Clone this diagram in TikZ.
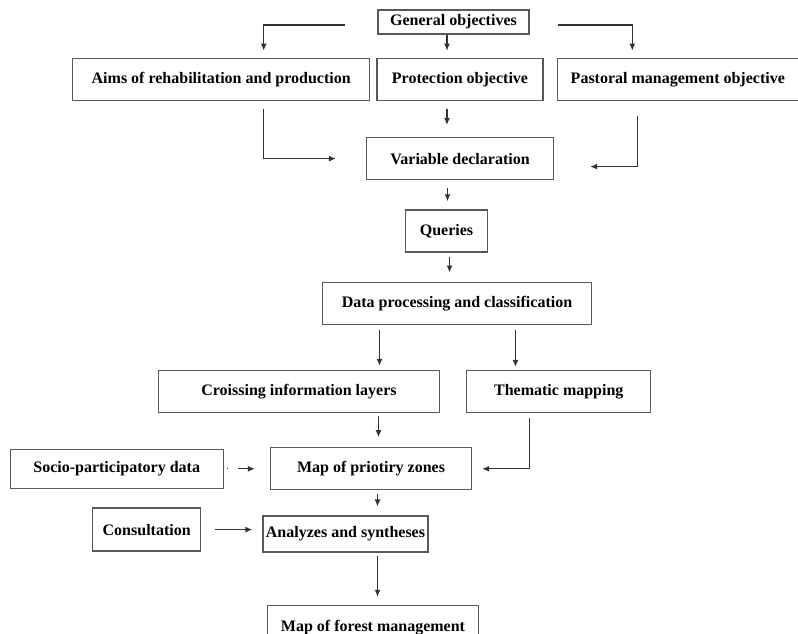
\documentclass[tikz,border=0pt]{standalone}
\usepackage{fontspec}
\setmainfont{Liberation Serif}
\usetikzlibrary{arrows.meta,positioning,calc}
\tikzset{
    stage/.style={draw=black!65, line width=1.3pt, minimum height=42pt, inner sep=1pt, font=\fontsize{16}{18}\selectfont\bfseries},
    flow/.style={-{Latex[length=7pt, width=6pt]}, line width=1.2pt, black!80},
    faint/.style={flow, dash pattern=on 1.5pt off 10pt on 20pt}
}

\begin{document}
\begin{tikzpicture}
    \useasboundingbox (0,0) rectangle (798pt,-634pt);
    \clip (0,0) rectangle (798pt,-634pt);

    \node[stage, minimum width=151pt, minimum height=24pt] (general) at (453.5pt,-22pt) {General objectives};
    \node[stage, minimum width=166pt, below=23pt of general, xshift=6.5pt] (protect) {Protection objective};
    \node[stage, minimum width=297pt, left=6pt of protect] (aims) {Aims of rehabilitation and production};
    \node[stage, minimum width=241pt, right=13pt of protect] (pastoral) {Pastoral management objective};
    \node[stage, minimum width=187pt, below=36pt of protect] (variable) {Variable declaration};
    \node[stage, minimum width=82pt, below=29pt of variable, xshift=-13.5pt] (queries) {Queries};
    \node[stage, minimum width=269pt, below=29pt of queries, xshift=10.5pt] (processing) {Data processing and classification};
    \node[stage, minimum width=281pt, below=45pt of processing, xshift=-158pt] (crossing) {Croissing information layers};
    \node[stage, minimum width=184pt, right=26pt of crossing] (thematic) {Thematic mapping};
    \node[stage, minimum width=201pt, below=34pt of crossing, xshift=72pt] (priority) {Map of priotiry zones};
    \node[stage, minimum width=213pt, minimum height=39pt, left=46pt of priority] (socio) {Socio-participatory data};
    \node[stage, minimum width=165pt, minimum height=36pt, below=25pt of priority, xshift=-25.5pt] (analyzes) {Analyzes and syntheses};
    \node[stage, minimum width=108pt, minimum height=43pt, left=61pt of analyzes, yshift=4.5pt] (consult) {Consultation};
    \node[stage, minimum width=211pt, minimum height=44pt, below=52pt of analyzes, xshift=27.5pt] (forest) {Map of forest management};

    % objectives
    \draw[flow, shorten >=7pt] ([shift={(-32pt,-3pt)}]general.west) -| ([xshift=42.5pt]aims.north);
    \draw[flow, shorten >=7pt] ([xshift=-6.5pt]general.south) -- ([xshift=-6.5pt]general.south |- protect.north);
    \draw[flow, shorten >=7pt] ([shift={(28pt,-3pt)}]general.east) -| ([xshift=-45.5pt]pastoral.north);
    \draw[flow, shorten >=30pt] ([shift={(42.5pt,-8pt)}]aims.south) |- (variable.west);
    \draw[flow, shorten <=8pt, shorten >=12pt] ([xshift=-13pt]protect.south) -- ([xshift=-13pt]protect.south |- variable.north);
    \draw[flow, shorten >=36pt] ([shift={(-40pt,-15pt)}]pastoral.south) |- ([yshift=-8pt]variable.east);

    % processing chain
    \draw[flow, shorten <=8pt, shorten >=8pt] ([xshift=-12.5pt]variable.south) -- ([xshift=-12.5pt]variable.south |- queries.north);
    \draw[flow, shorten <=4pt, shorten >=9pt] ([xshift=3pt]queries.south) -- ([xshift=3pt]queries.south |- processing.north);
    \draw[flow, shorten <=5pt, shorten >=4pt] ([xshift=-77.5pt]processing.south) -- ([xshift=-77.5pt]processing.south |- crossing.north);
    \draw[flow, shorten <=5pt, shorten >=3pt] ([xshift=58.5pt]processing.south) -- ([xshift=58.5pt]processing.south |- thematic.north);
    \draw[flow, shorten <=3pt, shorten >=10pt] ([xshift=79.5pt]crossing.south) -- ([xshift=79.5pt]crossing.south |- priority.north);
    \draw[flow, shorten >=10pt] ([shift={(-29pt,-5pt)}]thematic.south) |- (priority.east);
    \draw[faint, shorten <=3pt, shorten >=15pt] (socio.east) -- (socio.east -| priority.west);
    \draw[flow, shorten <=4pt, shorten >=9pt] ([xshift=6.5pt]priority.south) -- ([xshift=6.5pt]priority.south |- analyzes.north);
    \draw[flow, shorten <=14pt, shorten >=10pt] (consult.east) -- (consult.east -| analyzes.west);
    \draw[flow, shorten <=3pt, shorten >=8pt] ([xshift=32pt]analyzes.south) -- ([xshift=32pt]analyzes.south |- forest.north);
\end{tikzpicture}
\end{document}
